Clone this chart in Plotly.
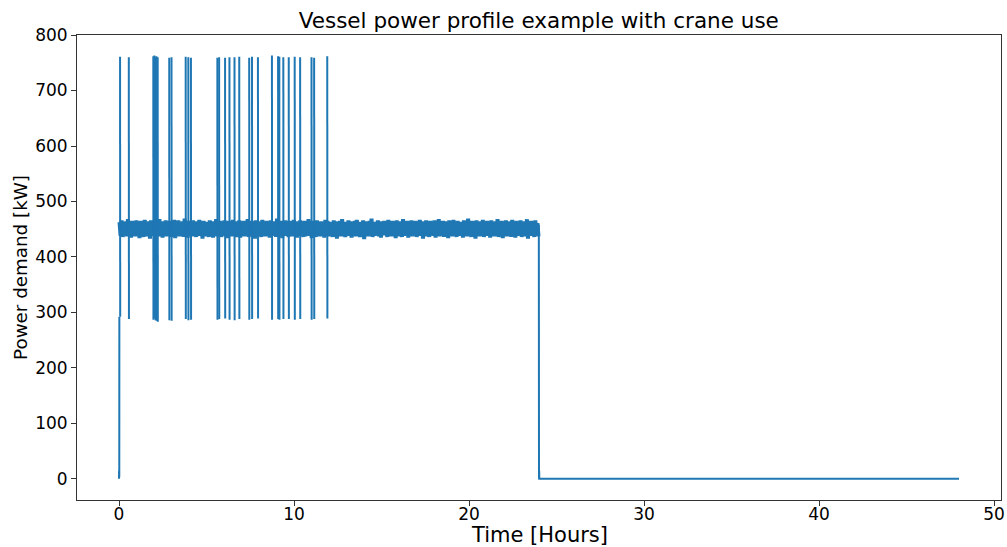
import plotly.graph_objects as go

# ---------------- data ----------------
# start-up at t = 0 (hours, kW)
START_T = [0.0, 0.004, 0.008, 0.012, 0.016, 0.02]
START_P = [0, 14, 2, 16, 4, 292]

# operating band: one sample every BAND_STEP hours, starting at BAND_T0
BAND_T0 = 0.03
BAND_STEP = 0.06
BAND_P = [
    463, 438, 466, 436, 461, 440, 464, 437, 468, 439, 462, 435, 465, 441, 460, 437, 466, 438, 463, 434,
    465, 439, 461, 436, 467, 440, 462, 437, 464, 433, 466, 438, 461, 441, 465, 436, 463, 439, 468, 437,
    460, 435, 464, 440, 466, 437, 462, 438, 465, 436, 461, 442, 467, 434, 463, 439, 466, 437, 462, 440,
    464, 436, 469, 438, 461, 435, 465, 441, 463, 437, 466, 439, 460, 436, 464, 438, 467, 440, 462, 433,
    465, 437, 463, 439, 461, 436, 466, 441, 464, 435, 462, 438, 468, 437, 463, 440, 465, 436, 461, 439,
    466, 438, 462, 434, 465, 440, 463, 437, 467, 439, 461, 436, 464, 441, 466, 435, 462, 438, 465, 437,
    463, 440, 468, 436, 461, 439, 465, 437, 462, 433, 466, 440, 464, 438, 460, 436, 467, 439, 463, 437,
    465, 441, 462, 435, 466, 438, 461, 440, 464, 436, 469, 437, 463, 439, 465, 434, 462, 440, 466, 438,
    461, 436, 465, 439, 463, 437, 467, 441, 462, 435, 464, 438, 466, 440, 461, 436, 465, 437, 463, 439,
    468, 438, 462, 434, 465, 440, 463, 436, 466, 439, 461, 437, 464, 441, 462, 435, 467, 438, 465, 437,
    463, 440, 461, 436, 466, 438, 464, 433, 462, 439, 465, 437, 468, 440, 463, 436, 461, 438, 466, 441,
    464, 435, 462, 439, 465, 437, 467, 440, 461, 436, 463, 438, 466, 432, 464, 439, 462, 437, 465, 440,
    469, 436, 463, 438, 461, 441, 466, 437, 464, 435, 462, 439, 465, 440, 463, 436, 467, 438, 461, 437,
    465, 439, 462, 434, 466, 440, 464, 437, 463, 436, 468, 438, 461, 441, 465, 435, 462, 439, 466, 437,
    463, 440, 465, 436, 461, 438, 467, 439, 464, 433, 462, 440, 466, 437, 463, 436, 465, 441, 461, 438,
    466, 435, 463, 439, 468, 437, 462, 440, 465, 436, 464, 438, 461, 434, 466, 439, 463, 437, 467, 440,
    462, 436, 465, 438, 463, 441, 461, 435, 466, 439, 464, 437, 469, 440, 462, 436, 465, 438, 463, 433,
    466, 439, 461, 437, 464, 440, 467, 436, 462, 438, 465, 441, 463, 435, 466, 439, 461, 437, 464, 440,
    468, 436, 462, 438, 465, 434, 463, 440, 466, 437, 461, 439, 464, 436, 467, 441, 462, 435, 465, 438,
    463, 440, 466, 436, 461, 439, 464, 437, 468, 433, 462, 440, 465, 438, 463, 436, 466, 439, 461, 437,
]

# crane events: time of each lift, peak power and lowest (regenerative) power
SPIKE_T = [0.06, 0.56, 1.96, 2.02, 2.08, 2.14, 2.21, 2.87, 3.0, 3.81, 3.96, 4.11,
           5.62, 5.72, 6.06, 6.31, 6.6, 6.87, 7.44, 7.6, 7.94, 8.74, 9.09, 9.16,
           9.39, 9.7, 10.04, 10.35, 11.0, 11.15, 11.9]
SPIKE_HIGH = [761, 760, 762, 763, 761, 762, 760, 759, 760, 761, 760, 759,
              759, 760, 759, 760, 760, 761, 759, 761, 760, 763, 762, 761,
              760, 760, 761, 760, 760, 759, 762]
SPIKE_LOW = [292, 288, 287, 289, 286, 285, 283, 286, 285, 288, 286, 287,
             287, 288, 289, 287, 286, 288, 287, 288, 289, 287, 288, 287,
             288, 288, 287, 288, 287, 288, 289]

# shut-down at t = 24 h and idle period to 48 h
END_T = [23.97, 23.99, 24.0, 24.004, 24.008, 24.012, 24.016, 48.0]
END_P = [450, 458, 0, 15, 1, 14, 0, 0]

X_TICKS = [0, 10, 20, 30, 40, 50]
Y_TICKS = [0, 100, 200, 300, 400, 500, 600, 700, 800]

# ---------------- build the series ----------------
band_x = [BAND_T0 + i * BAND_STEP for i in range(len(BAND_P))]
band_y = list(BAND_P)

ev_x, ev_y = list(START_T) + [None], list(START_P) + [None]
for t, hi, lo in zip(SPIKE_T, SPIKE_HIGH, SPIKE_LOW):
    ev_x += [t, t + 0.008, None]
    ev_y += [hi, lo, None]
ev_x += END_T
ev_y += END_P

FONT = "DejaVu Sans"
AXC = "#333333"
BLUE = "#1f77b4"

fig = go.Figure()
fig.add_trace(go.Scatter(x=band_x, y=band_y, mode="lines",
                         line=dict(color=BLUE, width=4, simplify=False),
                         showlegend=False, hoverinfo="skip"))
fig.add_trace(go.Scatter(x=ev_x, y=ev_y, mode="lines", connectgaps=False,
                         line=dict(color=BLUE, width=2, simplify=False),
                         showlegend=False, hoverinfo="skip"))

PLOT_H = 547 - 35 - 47

fig.update_layout(
    width=1007, height=547,
    margin=dict(l=77, r=6, t=35, b=47),
    paper_bgcolor="white", plot_bgcolor="white",
    font=dict(family=FONT, color="black"),
    title=dict(text="Vessel power profile example with crane use",
               x=0.535, xanchor="center", y=0.962, yanchor="middle",
               font=dict(family=FONT, size=21.5, color="black")),
    xaxis=dict(range=[-2.4, 50.4], tickvals=X_TICKS,
               ticks="outside", ticklen=5, tickcolor=AXC, tickwidth=1,
               ticklabelstandoff=-6,
               showline=True, linecolor=AXC, linewidth=1, mirror=True,
               showgrid=False, zeroline=False, automargin=False,
               tickfont=dict(family=FONT, size=17, color="black")),
    yaxis=dict(range=[-38.1, 800.1], tickvals=Y_TICKS,
               ticks="outside", ticklen=5, tickcolor=AXC, tickwidth=1,
               showline=True, linecolor=AXC, linewidth=1, mirror=True,
               showgrid=False, zeroline=False, automargin=False,
               tickfont=dict(family=FONT, size=17, color="black"),
               title=dict(text="Power demand [kW]", standoff=2,
                          font=dict(family=FONT, size=18.3, color="black"))),
    annotations=[dict(text="Time [Hours]", xref="paper", yref="paper",
                      x=0.5, xanchor="center", y=-(535 - 500) / PLOT_H,
                      yanchor="middle", showarrow=False,
                      font=dict(family=FONT, size=21, color="black"))],
)

fig.write_html("out.html", config={"displayModeBar": False},
               post_script="document.body.style.margin='0';")
